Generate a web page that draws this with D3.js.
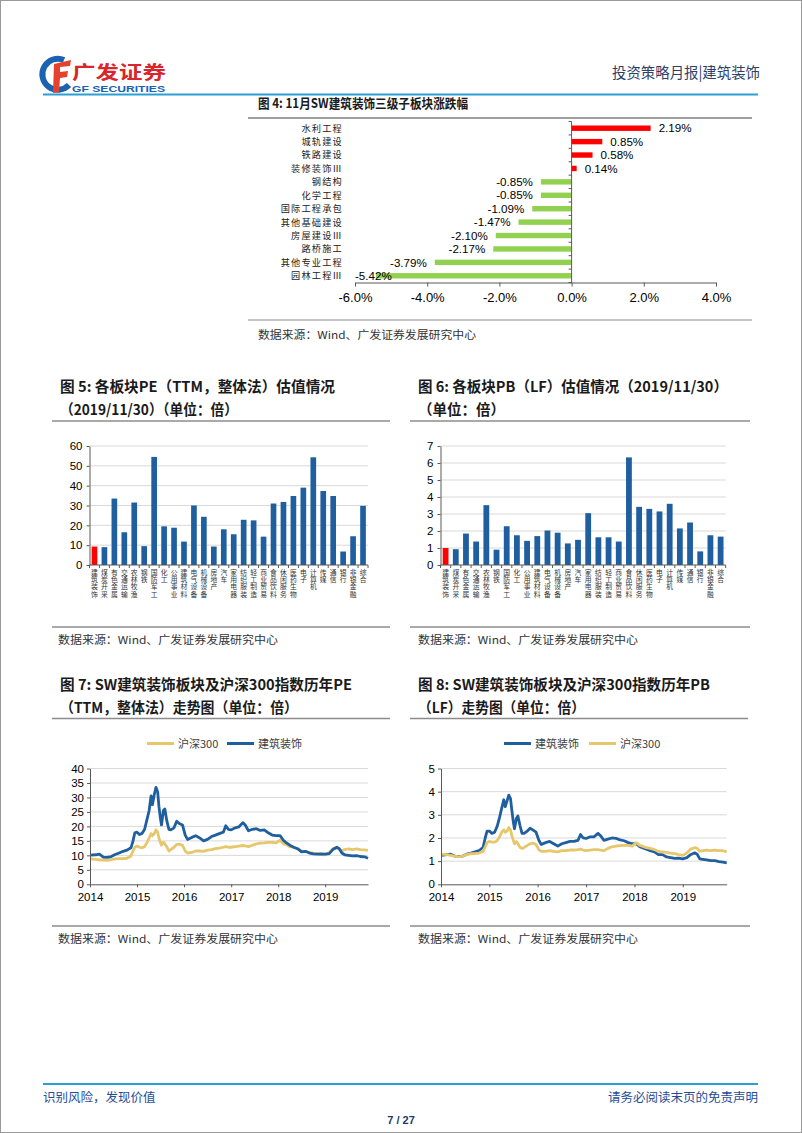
<!DOCTYPE html>
<html><head><meta charset="utf-8">
<script src="https://cdn.jsdelivr.net/npm/d3@7"></script>
<style>body{margin:0;background:#fff}svg{display:block}</style>
</head><body>
<svg id="page" width="802" height="1133"></svg>
<script>
// ---------- DATA ----------
const fig4Categories = ["水利工程","城轨建设","铁路建设","装修装饰Ⅲ","钢结构","化学工程","国际工程承包","其他基础建设","房屋建设Ⅲ","路桥施工","其他专业工程","园林工程Ⅲ"];
const fig4Values = [2.19,0.85,0.58,0.14,-0.85,-0.85,-1.09,-1.47,-2.10,-2.17,-3.79,-5.42];
const pctTicks = [-6,-4,-2,0,2,4];

const industries = ["建筑装饰","煤炭开采","有色金属","交通运输","农林牧渔","钢铁","国防军工","化工","公用事业","建筑材料","电气设备","机械设备","房地产","汽车","家用电器","纺织服装","轻工制造","商业贸易","食品饮料","休闲服务","医药生物","电子","计算机","传媒","通信","银行","非银金融","综合"];
const peValues = [9.3,9.0,33.5,16.5,31.5,9.5,54.5,19.5,18.8,11.8,30.0,24.3,9.3,18.0,15.5,22.8,22.5,14.3,31.0,31.8,34.8,39.0,54.3,37.3,34.8,6.8,14.5,29.8];
const pbValues = [1.00,0.93,1.85,1.38,3.52,0.90,2.28,1.75,1.42,1.70,2.03,1.90,1.27,1.48,3.05,1.63,1.63,1.38,6.33,3.42,3.30,3.15,3.60,2.15,2.50,0.80,1.75,1.67];
const peTicks = [0,10,20,30,40,50,60];
const pbTicks = [0,1,2,3,4,5,6,7];

const seriesDates = ["2014-01-02","2014-02-15","2014-03-15","2014-04-15","2014-05-15","2014-06-15","2014-07-15","2014-08-15","2014-09-15","2014-10-15","2014-11-15","2014-12-01","2014-12-15","2015-01-01","2015-01-20","2015-02-10","2015-03-01","2015-03-20","2015-04-05","2015-04-20","2015-05-01","2015-05-15","2015-05-28","2015-06-10","2015-06-20","2015-07-01","2015-07-10","2015-07-25","2015-08-05","2015-08-20","2015-09-05","2015-09-20","2015-10-15","2015-11-05","2015-11-25","2015-12-20","2016-01-10","2016-01-28","2016-03-01","2016-04-01","2016-05-01","2016-06-01","2016-07-01","2016-08-01","2016-09-01","2016-10-01","2016-11-01","2016-11-20","2016-12-10","2017-01-01","2017-02-01","2017-03-01","2017-04-01","2017-04-20","2017-05-15","2017-06-15","2017-07-15","2017-08-15","2017-09-15","2017-10-15","2017-11-15","2017-12-15","2018-01-15","2018-02-10","2018-03-01","2018-04-01","2018-05-01","2018-06-01","2018-07-01","2018-08-01","2018-09-01","2018-10-01","2018-11-01","2018-12-01","2019-01-01","2019-02-01","2019-03-01","2019-04-01","2019-04-20","2019-05-10","2019-06-01","2019-07-01","2019-08-01","2019-09-01","2019-10-01","2019-11-01","2019-11-29"];
const peBuild = [10.1,10.2,10.4,9.4,9.3,9.6,10.3,10.8,11.4,11.8,12.6,15.0,17.8,18.0,17.2,17.6,19.0,22.5,25.5,30.5,27.5,31.0,33.5,32.0,27.0,23.0,20.5,25.5,26.0,22.0,19.0,18.8,19.5,21.8,21.0,20.5,17.0,15.5,16.2,16.8,16.0,15.0,15.5,16.5,17.0,17.5,18.0,20.2,19.0,18.8,19.5,19.8,21.3,20.5,18.5,19.0,19.2,18.6,18.8,17.8,17.0,16.8,16.8,15.2,14.5,13.5,12.8,12.3,11.2,11.4,10.8,10.5,10.4,10.5,10.4,10.6,12.0,12.8,12.3,10.8,10.2,10.0,9.8,9.9,9.6,9.5,9.0];
const peHS300 = [8.8,8.6,8.4,8.4,8.3,8.5,8.8,8.9,8.9,9.0,9.8,11.5,12.8,13.2,12.8,12.6,13.0,14.5,16.0,17.5,16.8,17.5,18.8,18.0,16.0,14.5,13.5,14.5,14.0,13.0,11.5,12.0,12.8,13.8,13.8,13.5,11.5,10.8,11.0,11.5,11.5,11.4,11.8,12.0,12.3,12.5,12.8,13.0,12.8,12.8,13.0,13.2,13.4,13.3,13.0,13.5,14.0,14.2,14.3,14.5,14.5,14.3,15.2,14.0,13.8,13.0,12.8,12.2,11.5,11.3,11.0,10.8,10.6,10.3,10.2,11.0,12.3,12.6,12.3,11.5,12.0,12.2,12.0,12.2,12.0,11.9,11.7];
const pbBuild = [1.25,1.28,1.30,1.22,1.20,1.22,1.30,1.35,1.40,1.45,1.60,2.00,2.30,2.30,2.20,2.25,2.50,2.90,3.30,3.65,3.35,3.60,3.85,3.70,3.20,2.70,2.40,2.85,2.95,2.55,2.20,2.20,2.30,2.42,2.35,2.25,1.90,1.72,1.80,1.85,1.75,1.65,1.75,1.80,1.85,1.85,1.90,2.15,2.00,1.98,2.05,2.05,2.20,2.10,1.90,1.95,2.00,1.98,1.92,1.88,1.80,1.75,1.75,1.62,1.58,1.52,1.45,1.40,1.28,1.28,1.18,1.15,1.12,1.13,1.10,1.15,1.28,1.36,1.30,1.10,1.08,1.05,1.02,1.02,0.98,0.96,0.93];
const pbHS300 = [1.30,1.28,1.25,1.22,1.18,1.22,1.28,1.32,1.33,1.35,1.42,1.62,1.80,1.85,1.82,1.82,1.88,2.05,2.25,2.35,2.25,2.30,2.45,2.35,2.10,1.90,1.75,1.85,1.75,1.60,1.55,1.58,1.68,1.75,1.78,1.72,1.50,1.42,1.42,1.45,1.42,1.40,1.45,1.46,1.48,1.48,1.50,1.52,1.48,1.45,1.48,1.50,1.50,1.48,1.45,1.55,1.62,1.65,1.67,1.68,1.68,1.65,1.80,1.68,1.65,1.58,1.55,1.50,1.42,1.40,1.38,1.35,1.32,1.28,1.25,1.35,1.52,1.58,1.55,1.42,1.45,1.48,1.45,1.48,1.45,1.45,1.40];
const peLineTicks = [0,5,10,15,20,25,30,35,40];
const pbLineTicks = [0,1,2,3,4,5];
const yearTicks = ["2014","2015","2016","2017","2018","2019"];

// ---------- STYLE ----------
const CJK = "'Noto Sans CJK SC','Noto Sans',sans-serif";
const LAT = "'Liberation Sans',Arial,'Noto Sans CJK SC',sans-serif";
const BLUE = "#1F5FA0", YELLOW = "#E6C76C", RED = "#FF0000", GREEN = "#92D050";
const GRID = "#D9D9D9", AXIS = "#595959", RULE = "#8C8C8C";

const svg = d3.select("#page");
svg.append("rect").attr("x",0.5).attr("y",0.5).attr("width",801).attr("height",1132)
  .attr("fill","#fff").attr("stroke","#9a9a9a");

function txt(g, s, x, y, o = {}) {
  const t = g.append("text").attr("x", x).attr("y", y).text(s)
    .attr("font-family", o.family || CJK).attr("font-size", o.size || 12)
    .attr("fill", o.fill || "#222").attr("text-anchor", o.anchor || "start");
  if (o.weight) t.attr("font-weight", o.weight);
  if (o.spacing) t.attr("letter-spacing", o.spacing);
  if (o.len) t.attr("textLength", o.len).attr("lengthAdjust", "spacingAndGlyphs");
  return t;
}
function rule(x1, x2, y, color = RULE, w = 1.5) {
  svg.append("line").attr("x1", x1).attr("x2", x2).attr("y1", y).attr("y2", y)
    .attr("stroke", color).attr("stroke-width", w);
}

// ---------- HEADER ----------
const logo = svg.append("g");
logo.append("path").attr("d", "M64,60 A15.5,15.5 0 1 0 69,85").attr("fill","none")
  .attr("stroke", "#1B62B0").attr("stroke-width", 6);
logo.append("path").attr("d", "M54,64 L71,60 L70,66 L60,67 L60,72 L68,71 L67,77 L60,78 L59,92 L53,93 Z")
  .attr("fill", "#E5412D");
txt(logo, "广发证券", 72, 78.5, {size: 18.5, weight: 700, fill: "#D8262B", len: 94});
txt(logo, "GF SECURITIES", 72, 91.5, {size: 8.5, weight: 700, fill: "#1B62B0", family: LAT, len: 93});
txt(svg, "投资策略月报|建筑装饰", 760, 78, {size: 15, fill: "#2F3F66", anchor: "end", len: 148});
rule(43, 758, 94.5, "#2A9FD6", 2);

// ---------- FIG 4 ----------
txt(svg, "图 4: 11月SW建筑装饰三级子板块涨跌幅", 258, 108, {size: 13, weight: 700, fill: "#1a1a1a", len: 210});
rule(248, 752, 118, "#404040", 1.2);
{
  const g = svg.append("g");
  const x = d3.scaleLinear().domain([-6, 4]).range([355, 716]);
  const y = d3.scaleBand().domain(fig4Categories).range([121.5, 282.5]);
  g.selectAll("rect.b").data(fig4Values).join("rect")
    .attr("x", d => Math.min(x(d), x(0))).attr("width", d => Math.abs(x(d) - x(0)))
    .attr("y", (d, i) => y(fig4Categories[i]) + y.bandwidth() / 2 - 2.7).attr("height", 5.4)
    .attr("fill", d => d >= 0 ? RED : GREEN);
  const ax = g.append("g").attr("transform", "translate(0,282.5)")
    .call(d3.axisBottom(x).tickValues(pctTicks).tickFormat(d => d.toFixed(1) + "%").tickSize(4).tickSizeOuter(0));
  ax.select(".domain").attr("stroke", AXIS);
  ax.selectAll(".tick line").attr("stroke", AXIS);
  ax.selectAll("text").attr("font-family", LAT).attr("font-size", 13).attr("fill", "#000").attr("dy", "0.95em");
  g.append("line").attr("x1", x(0)).attr("x2", x(0)).attr("y1", 121.5).attr("y2", 282.5).attr("stroke", AXIS);
  const bounds = fig4Categories.map(c => y(c)).concat([282.5]);
  g.selectAll("line.yt").data(bounds).join("line").attr("x1", x(0) - 3).attr("x2", x(0))
    .attr("y1", d => d).attr("y2", d => d).attr("stroke", AXIS);
  fig4Categories.forEach((c, i) => {
    txt(g, c, 343, y(c) + y.bandwidth() / 2 + 3.4, {size: 9.2, fill: "#222", anchor: "end", spacing: 1.2});
    const v = fig4Values[i];
    const label = v.toFixed(2) + "%";
    if (v >= 0) {
      txt(g, label, x(v) + 8, y(c) + y.bandwidth() / 2 + 4.2, {size: 11.6, fill: "#000", family: LAT});
    } else {
      const t = txt(g, label, x(v) - 8, y(c) + y.bandwidth() / 2 + 4.2, {size: 11.6, fill: "#000", family: LAT, anchor: "end"});
      const w = t.node().getComputedTextLength();
      if (x(v) - 8 - w < x(-6)) t.attr("x", x(-6) + w);
    }
  });
}
rule(248, 752, 320, RULE, 1.2);
txt(svg, "数据来源：Wind、广发证券发展研究中心", 258, 339, {size: 11, fill: "#333", len: 218});

// ---------- BAR CHARTS (FIG 5 / FIG 6) ----------
function barChart(o) {
  const g = svg.append("g");
  const x = d3.scaleBand().domain(industries).range([o.x0, o.x1]).paddingInner(0.43).paddingOuter(0.215);
  const y = d3.scaleLinear().domain([0, o.max]).range([565, 446]);
  g.selectAll("line.grid").data(o.ticks.filter(t => t > 0)).join("line")
    .attr("x1", o.x0).attr("x2", o.x1).attr("y1", d => y(d)).attr("y2", d => y(d)).attr("stroke", GRID);
  g.selectAll("rect").data(o.values).join("rect")
    .attr("x", (d, i) => x(industries[i])).attr("width", x.bandwidth())
    .attr("y", d => y(d)).attr("height", d => y(0) - y(d))
    .attr("fill", (d, i) => i === 0 ? RED : BLUE);
  const ay = g.append("g").attr("transform", `translate(${o.x0},0)`)
    .call(d3.axisLeft(y).tickValues(o.ticks).tickSize(3).tickSizeOuter(0).tickFormat(d3.format("d")));
  ay.select(".domain").attr("stroke", AXIS);
  ay.selectAll(".tick line").attr("stroke", AXIS);
  ay.selectAll("text").attr("font-family", LAT).attr("font-size", 11.5).attr("fill", "#000").attr("x", -7);
  g.append("line").attr("x1", o.x0).attr("x2", o.x1).attr("y1", y(0)).attr("y2", y(0)).attr("stroke", AXIS);
  const step = (o.x1 - o.x0) / industries.length;
  g.selectAll("line.xt").data(d3.range(industries.length + 1)).join("line")
    .attr("x1", i => o.x0 + i * step).attr("x2", i => o.x0 + i * step)
    .attr("y1", y(0)).attr("y2", y(0) + 3).attr("stroke", AXIS);
  industries.forEach(c => {
    const cx = x(c) + x.bandwidth() / 2;
    const t = g.append("text").attr("font-family", CJK).attr("font-size", 6.8)
      .attr("fill", "#333").attr("text-anchor", "middle");
    Array.from(c).forEach((ch, k) => {
      t.append("tspan").attr("x", cx).attr("y", 574.5 + k * 7.4).text(ch);
    });
  });
}
txt(svg, "图 5: 各板块PE（TTM，整体法）估值情况", 60, 392, {size: 14.5, weight: 700, fill: "#1a1a1a", len: 275});
txt(svg, "（2019/11/30）（单位：倍）", 60, 415, {size: 14.5, weight: 700, fill: "#1a1a1a", len: 178});
rule(52, 390, 421);
barChart({x0: 89.5, x1: 368, max: 60, ticks: peTicks, values: peValues});
rule(52, 390, 627);
txt(svg, "数据来源：Wind、广发证券发展研究中心", 58, 644, {size: 11, fill: "#333", len: 220});

txt(svg, "图 6: 各板块PB（LF）估值情况（2019/11/30）", 418, 392, {size: 14.5, weight: 700, fill: "#1a1a1a"});
txt(svg, "（单位：倍）", 418, 415, {size: 14.5, weight: 700, fill: "#1a1a1a"});
rule(410, 750, 421);
barChart({x0: 440.5, x1: 725.7, max: 7, ticks: pbTicks, values: pbValues});
rule(410, 750, 627);
txt(svg, "数据来源：Wind、广发证券发展研究中心", 418, 644, {size: 11, fill: "#333", len: 220});

// ---------- LINE CHARTS (FIG 7 / FIG 8) ----------
const parse = d3.timeParse("%Y-%m-%d");
const dates = seriesDates.map(parse);
function lineChart(o) {
  const g = svg.append("g");
  const x = d3.scaleTime().domain([parse("2014-01-01"), parse("2019-11-29")]).range([o.x0, o.x1]);
  const y = d3.scaleLinear().domain([0, o.max]).range([884.3, 768.5]);
  g.selectAll("line.grid").data(o.ticks.filter(t => t > 0)).join("line")
    .attr("x1", o.x0).attr("x2", o.x1).attr("y1", d => y(d)).attr("y2", d => y(d)).attr("stroke", GRID);
  const line = d3.line().x((d, i) => x(dates[i])).y(d => y(d)).curve(d3.curveLinear);
  o.series.forEach(s => {
    g.append("path").datum(s.values).attr("d", line).attr("fill", "none")
      .attr("stroke", s.color).attr("stroke-width", 2.8).attr("stroke-linejoin", "round");
  });
  const ay = g.append("g").attr("transform", `translate(${o.x0},0)`)
    .call(d3.axisLeft(y).tickValues(o.ticks).tickSize(3).tickSizeOuter(0).tickFormat(d3.format("d")));
  ay.select(".domain").attr("stroke", AXIS);
  ay.selectAll(".tick line").attr("stroke", AXIS);
  ay.selectAll("text").attr("font-family", LAT).attr("font-size", 11.5).attr("fill", "#000").attr("x", -6);
  const yearDates = yearTicks.map(t => parse(t + "-01-01"));
  const ax = g.append("g").attr("transform", "translate(0,884.3)")
    .call(d3.axisBottom(x).tickValues(yearDates).tickSize(3).tickSizeOuter(0).tickFormat((d, i) => yearTicks[i]));
  ax.select(".domain").attr("stroke", AXIS);
  ax.selectAll(".tick line").attr("stroke", AXIS);
  ax.selectAll("text").attr("font-family", LAT).attr("font-size", 11.5).attr("fill", "#000").attr("dy", "0.9em");
  o.legend.forEach(l => {
    g.append("line").attr("x1", l.x).attr("x2", l.x + 27).attr("y1", 743.5).attr("y2", 743.5)
      .attr("stroke", l.color).attr("stroke-width", 3);
    txt(g, l.label, l.x + 31, 747.5, {size: 11, fill: "#404040"});
  });
}
txt(svg, "图 7: SW建筑装饰板块及沪深300指数历年PE", 60, 690, {size: 14.5, weight: 700, fill: "#1a1a1a", len: 292});
txt(svg, "（TTM，整体法）走势图（单位：倍）", 60, 713, {size: 14.5, weight: 700, fill: "#1a1a1a", len: 238});
rule(52, 390, 718.5);
lineChart({x0: 90, x1: 368, max: 40, ticks: peLineTicks,
  series: [{values: peHS300, color: YELLOW}, {values: peBuild, color: BLUE}],
  legend: [{x: 147, color: YELLOW, label: "沪深300"}, {x: 227, color: BLUE, label: "建筑装饰"}]});
rule(52, 390, 926);
txt(svg, "数据来源：Wind、广发证券发展研究中心", 58, 943, {size: 11, fill: "#333", len: 220});

txt(svg, "图 8: SW建筑装饰板块及沪深300指数历年PB", 418, 690, {size: 14.5, weight: 700, fill: "#1a1a1a", len: 292});
txt(svg, "（LF）走势图（单位：倍）", 418, 713, {size: 14.5, weight: 700, fill: "#1a1a1a", len: 167});
rule(410, 748, 718.5);
lineChart({x0: 441, x1: 726.7, max: 5, ticks: pbLineTicks,
  series: [{values: pbBuild, color: BLUE}, {values: pbHS300, color: YELLOW}],
  legend: [{x: 504, color: BLUE, label: "建筑装饰"}, {x: 589, color: YELLOW, label: "沪深300"}]});
rule(410, 750, 926);
txt(svg, "数据来源：Wind、广发证券发展研究中心", 418, 943, {size: 11, fill: "#333", len: 220});

// ---------- FOOTER ----------
rule(43, 758, 1084, "#2A9FD6", 2);
txt(svg, "识别风险，发现价值", 43, 1102, {size: 12.5, fill: "#1F4E96"});
txt(svg, "请务必阅读末页的免责声明", 758, 1102, {size: 12.5, fill: "#1F4E96", anchor: "end"});
txt(svg, "7 / 27", 401, 1124, {size: 11, weight: 700, fill: "#1F3864", anchor: "middle", family: LAT});
</script>
</body></html>
